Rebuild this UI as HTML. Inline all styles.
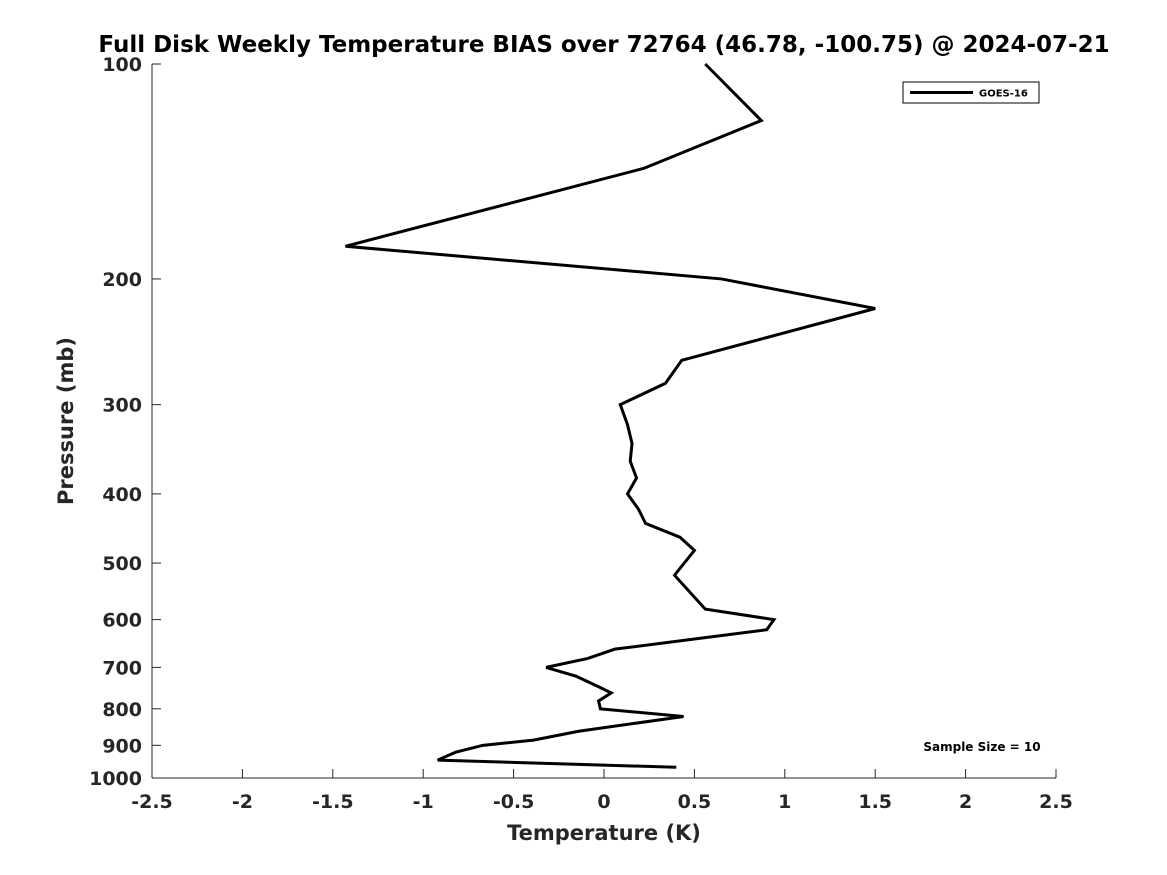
<!DOCTYPE html>
<html><head><meta charset="utf-8"><style>
body{margin:0;background:#fff;}
svg{display:block;font-family:"DejaVu Sans","Liberation Sans",sans-serif;font-weight:bold;}
</style></head><body>
<svg id="c" width="1167" height="875">
<text x="604" y="52" text-anchor="middle" font-size="23" fill="#000">Full Disk Weekly Temperature BIAS over 72764 (46.78, -100.75) @ 2024-07-21</text>
<g id="axes"></g>
<polyline id="line" fill="none" stroke="#000" stroke-width="3"/>
<g>
<rect x="903" y="82" width="136" height="21" fill="#fff" stroke="#000" stroke-width="1"/>
<line x1="910" y1="92.5" x2="973" y2="92.5" stroke="#000" stroke-width="3"/>
<text x="979" y="96.5" font-size="10">GOES-16</text>
</g>
<text x="982" y="751" text-anchor="middle" font-size="12">Sample Size = 10</text>
<text x="604" y="840" text-anchor="middle" font-size="21" fill="#262626">Temperature (K)</text>
<text transform="translate(73,421) rotate(-90)" text-anchor="middle" font-size="21" fill="#262626">Pressure (mb)</text>
</svg>
<script>
const temps=[0.56,0.87,0.22,-1.43,0.65,1.5,0.43,0.34,0.09,0.13,0.155,0.145,0.18,0.13,0.19,0.23,0.42,0.5,0.39,0.56,0.94,0.9,0.06,-0.09,-0.32,-0.155,-0.03,0.04,-0.03,-0.02,0.44,-0.14,-0.39,-0.67,-0.82,-0.92,0.4];
const pressures=[100,120,140,180,200,220,260,280,300,320,340,360,380,400,420,440,460,480,520,580,600,620,660,680,700,720,745,760,780,800,820,860,885,900,920,944,966];
const xTicks=[-2.5,-2,-1.5,-1,-0.5,0,0.5,1,1.5,2,2.5];
const yTicks=[100,200,300,400,500,600,700,800,900,1000];
const X0=152,X1=1056,Y0=64,Y1=778;
function xs(v){return X0+(v+2.5)/5*(X1-X0);}
function ys(p){return Y0+(Y1-Y0)*Math.log10(p/100);}
const ns="http://www.w3.org/2000/svg";
const ax=document.getElementById('axes');
function mk(t,a){const e=document.createElementNS(ns,t);for(const k in a)e.setAttribute(k,a[k]);ax.appendChild(e);return e;}
let e=mk('line',{x1:X0,y1:Y0,x2:X0,y2:Y1,stroke:'#262626','stroke-width':1});


e=mk('line',{x1:X0,y1:Y1,x2:X1,y2:Y1,stroke:'#262626','stroke-width':1});


xTicks.forEach(v=>{
 mk('line',{x1:xs(v),y1:Y1,x2:xs(v),y2:Y1-9,stroke:'#262626'});
 const t=mk('text',{x:xs(v),y:Y1+30,'text-anchor':'middle','font-size':19,fill:'#262626'});
 t.textContent=String(v);
 
 
});
yTicks.forEach(v=>{
 mk('line',{x1:X0,y1:ys(v),x2:X0+9,y2:ys(v),stroke:'#262626'});
 const t=mk('text',{x:X0-10,y:ys(v)+7,'text-anchor':'end','font-size':19,fill:'#262626'});
 t.textContent=String(v);
 
 
});
document.getElementById('line').setAttribute('points',temps.map((t,i)=>xs(t)+','+ys(pressures[i])).join(' '));
</script>
</body></html>
